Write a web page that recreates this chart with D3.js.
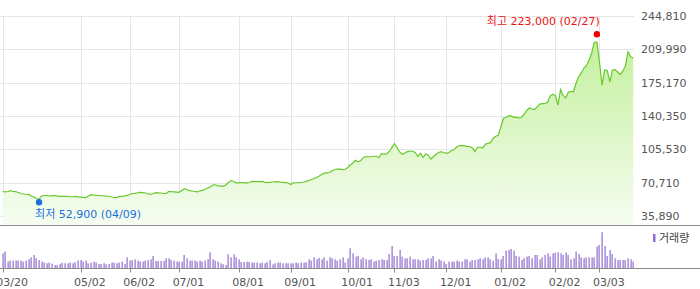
<!DOCTYPE html>
<html>
<head>
<meta charset="utf-8">
<script src="https://cdn.jsdelivr.net/npm/d3@7"></script>
<style>
  html, body { margin: 0; padding: 0; background: #fff; }
  svg { display: block; }
  text { font-family: "DejaVu Sans", "Noto Sans CJK KR", sans-serif; }
</style>
</head>
<body>
<div id="chart"></div>
<script>
// price axis tick values (also the labels)
var priceTicks = [35890, 70710, 105530, 140350, 175170, 209990, 244810];

// date ticks: label + trading-day index
var dateLabels = ["03/20", "05/02", "06/02", "07/01", "08/01", "09/01", "10/01", "11/03", "12/01", "01/02", "02/02", "03/03"];
var dateIndex = [0, 30, 49, 68, 91, 111, 133, 151, 171, 192, 213, 230];

// daily closes, one per trading day
var closes = [
  61500, 61000, 61500, 62300, 61500, 61300, 60400, 59400, 58900, 58600,
  58400, 56800, 55700, 54200, 53400, 56800, 57300, 57300, 56800, 57200,
  57200, 56800, 56300, 56300, 56500, 56300, 56000, 56000, 56300, 55900,
  55700, 55200, 55000, 56800, 58100, 57800, 57500, 57300, 57100, 56800,
  56600, 56500, 55700, 55200, 55400, 56300, 56300, 57000, 57500, 58400,
  59400, 59600, 60200, 60600, 60400, 59900, 59100, 58400, 59400, 60200,
  60100, 59900, 59400, 59400, 61500, 61200, 61000, 60800, 60600, 62500,
  64400, 63600, 62300, 62000, 61500, 61000, 62000, 62700, 63800, 65100,
  66200, 68300, 68500, 67400, 67200, 67200, 68300, 70900, 72900, 72000,
  70400, 70400, 70700, 70700, 70200, 70900, 72100, 71900, 71700, 71900,
  72100, 71100, 70700, 71100, 71400, 71600, 71700, 71400, 71100, 70700,
  70400, 68800, 70400, 70600, 70700, 70900, 71400, 72100, 73000, 74000,
  75100, 76100, 77700, 79500, 80600, 81000, 81300, 83200, 84500, 85000,
  84800, 84300, 84700, 86600, 89200, 91300, 94100, 92400, 93900, 96800,
  98000, 97800, 97800, 98300, 98300, 96800, 101200, 100200, 100700, 103300,
  107500, 111600, 107300, 102800, 100400, 101700, 103100, 103800, 103500, 102200,
  98000, 101400, 97000, 100700, 99600, 95400, 97800, 100100, 102200, 103100,
  102200, 101400, 102200, 104300, 105400, 108000, 109500, 109500, 109200, 108700,
  108500, 106900, 103300, 107700, 107700, 106900, 110800, 111800, 112500, 116900,
  119200, 120200, 128900, 138000, 138800, 140400, 140400, 139000, 139000, 138300,
  138800, 142400, 146100, 148700, 147700, 147100, 150100, 152700, 153200, 153400,
  154700, 161200, 163000, 161600, 151800, 168000, 161800, 159100, 165400, 165900,
  165900, 174800, 181600, 185300, 190500, 193100, 198800, 206200, 217100, 217700,
  196800, 172700, 188400, 187900, 175900, 188400, 188900, 186300, 183700, 187400,
  192600, 207500, 202300, 200600
];

// daily volume, millions of shares
var volumes = [
  21.4, 23.9, 9.6, 11.0, 11.0, 11.0, 11.0, 11.0, 9.6, 11.0,
  12.9, 15.7, 19.0, 14.3, 11.9, 9.6, 8.2, 7.2, 8.2, 6.7,
  4.7, 4.7, 6.1, 8.2, 7.2, 7.2, 8.2, 7.2, 8.6, 11.0,
  11.9, 9.6, 11.0, 7.2, 8.2, 9.6, 8.2, 6.1, 6.1, 7.2,
  5.7, 6.1, 8.2, 8.2, 7.2, 8.2, 9.6, 6.1, 15.7, 11.0,
  11.9, 12.9, 11.0, 9.6, 9.6, 11.0, 11.9, 12.9, 17.6, 10.4,
  10.4, 10.4, 10.4, 14.3, 14.3, 11.9, 11.0, 9.6, 9.6, 9.6,
  19.0, 14.3, 11.0, 11.0, 11.0, 9.6, 11.0, 9.6, 11.0, 12.9,
  22.9, 12.9, 11.0, 9.6, 7.2, 5.7, 4.7, 20.0, 15.7, 20.0,
  15.7, 12.9, 9.0, 9.0, 9.6, 9.0, 8.2, 8.2, 8.2, 7.2,
  8.2, 7.2, 9.0, 11.9, 5.7, 7.2, 8.2, 8.2, 7.2, 7.2,
  7.2, 7.2, 7.2, 8.2, 7.2, 8.2, 8.2, 8.6, 12.9, 11.0,
  15.7, 12.9, 14.7, 12.9, 15.7, 11.0, 15.7, 14.3, 12.9, 11.0,
  12.9, 15.7, 8.2, 14.3, 28.6, 21.4, 16.7, 17.6, 12.9, 15.7,
  12.9, 11.9, 12.9, 9.6, 11.0, 11.9, 12.9, 11.9, 11.9, 20.4,
  31.9, 17.6, 17.6, 26.2, 16.7, 14.3, 14.3, 16.7, 12.9, 12.9,
  12.9, 11.0, 11.9, 11.9, 14.3, 14.3, 17.6, 9.6, 12.9, 11.0,
  9.6, 6.1, 9.6, 9.6, 9.6, 11.0, 9.6, 9.6, 12.9, 12.9,
  9.6, 11.9, 11.9, 12.9, 14.3, 12.9, 15.7, 15.7, 12.9, 11.0,
  21.4, 12.9, 12.9, 17.6, 25.3, 26.2, 27.6, 25.3, 17.6, 16.7,
  11.9, 14.3, 16.7, 17.6, 14.3, 19.0, 19.0, 12.9, 15.7, 19.0,
  21.4, 16.7, 21.4, 22.4, 22.9, 21.4, 19.0, 22.4, 19.0, 12.9,
  14.3, 23.9, 20.4, 15.7, 14.3, 15.7, 15.7, 15.7, 15.7, 31.0,
  33.3, 51.5, 31.9, 17.6, 26.2, 20.4, 14.3, 11.9, 11.9, 11.9,
  11.9, 14.3, 12.9, 9.6
];

// high / low markers
var highMark = { idx: 229, value: 223000, label: "최고 223,000 (02/27)" };
var lowMark = { idx: 14, value: 52900, label: "최저 52,900 (04/09)" };

var width = 700, height = 289;

var svg = d3.select("#chart")
    .append("svg")
    .attr("width", width)
    .attr("height", height);

// scales
var x = d3.scaleLinear()
    .domain([0, closes.length - 1])
    .range([2.7, 633.2]);

var y = d3.scaleLinear()
    .domain([priceTicks[0], priceTicks[priceTicks.length - 1]])
    .range([216, 16]);

var yVol = d3.scaleLinear()
    .domain([0, 60])
    .range([268.3, 226.3]);

var mainBottom = 225.5;
var plotRight = 634;

// gradient for the area
var defs = svg.append("defs");
var grad = defs.append("linearGradient")
    .attr("id", "areaGrad")
    .attr("gradientUnits", "userSpaceOnUse")
    .attr("x1", 0).attr("y1", 16)
    .attr("x2", 0).attr("y2", mainBottom);
grad.append("stop").attr("offset", 0).attr("stop-color", "#bdee92");
grad.append("stop").attr("offset", 1).attr("stop-color", "#f6fdf1");

// horizontal grid
svg.append("g")
    .selectAll("line")
    .data(priceTicks)
    .enter()
    .append("line")
    .attr("x1", 0)
    .attr("x2", plotRight)
    .attr("y1", function (d) { return Math.round(y(d)) + 0.5; })
    .attr("y2", function (d) { return Math.round(y(d)) + 0.5; })
    .attr("stroke", "#e6e6e6");

// vertical grid
svg.append("g")
    .selectAll("line")
    .data(dateIndex)
    .enter()
    .append("line")
    .attr("x1", function (d) { return Math.round(x(d)) + 0.5; })
    .attr("x2", function (d) { return Math.round(x(d)) + 0.5; })
    .attr("y1", 16)
    .attr("y2", mainBottom)
    .attr("stroke", "#e6e6e6");

// area + line
var area = d3.area()
    .x(function (d, i) { return x(i); })
    .y0(mainBottom)
    .y1(function (d) { return y(d); });

var line = d3.line()
    .x(function (d, i) { return x(i); })
    .y(function (d) { return y(d); });

svg.append("path")
    .datum(closes)
    .attr("d", area)
    .attr("fill", "url(#areaGrad)");

svg.append("path")
    .datum(closes)
    .attr("d", line)
    .attr("fill", "none")
    .attr("stroke", "#66c82a")
    .attr("stroke-width", 1.2);

// price axis labels
svg.append("g")
    .selectAll("text")
    .data(priceTicks)
    .enter()
    .append("text")
    .attr("x", 641)
    .attr("y", function (d) { return y(d); })
    .attr("dy", "0.36em")
    .attr("font-size", "11px")
    .attr("fill", "#555")
    .text(function (d) { return d3.format(",")(d); });

// separator between price and volume panels
svg.append("line")
    .attr("x1", 0).attr("x2", width)
    .attr("y1", mainBottom).attr("y2", mainBottom)
    .attr("stroke", "#8c8c8c");

// high / low markers
svg.append("circle")
    .attr("cx", x(highMark.idx))
    .attr("cy", y(highMark.value) - 2.6)
    .attr("r", 3.2)
    .attr("fill", "#ee0000");
svg.append("text")
    .attr("x", x(highMark.idx) + 3)
    .attr("y", 21)
    .attr("dy", "0.36em")
    .attr("text-anchor", "end")
    .attr("font-size", "11px")
    .attr("fill", "#ee1111")
    .text(highMark.label);

svg.append("circle")
    .attr("cx", x(lowMark.idx))
    .attr("cy", y(lowMark.value) + 2.6)
    .attr("r", 3.2)
    .attr("fill", "#1a6fdc");
svg.append("text")
    .attr("x", x(lowMark.idx) - 4)
    .attr("y", 214.5)
    .attr("dy", "0.36em")
    .attr("font-size", "11px")
    .attr("fill", "#1a6fdc")
    .text(lowMark.label);

// volume bars
svg.append("g")
    .selectAll("rect")
    .data(volumes)
    .enter()
    .append("rect")
    .attr("x", function (d, i) { return Math.round(x(i)) - 0.5; })
    .attr("y", function (d) { return yVol(d); })
    .attr("width", 1.2)
    .attr("height", function (d) { return yVol(0) - yVol(d); })
    .attr("fill", "#8f6fcf");

// volume baseline
svg.append("line")
    .attr("x1", 0).attr("x2", width)
    .attr("y1", 268.5).attr("y2", 268.5)
    .attr("stroke", "#8c8c8c");

// date ticks + labels (labels start a little left of the tick)
var xt = svg.append("g");
xt.selectAll("line")
    .data(dateIndex)
    .enter()
    .append("line")
    .attr("x1", function (d) { return Math.round(x(d)) + 0.5; })
    .attr("x2", function (d) { return Math.round(x(d)) + 0.5; })
    .attr("y1", 268.5)
    .attr("y2", 272.5)
    .attr("stroke", "#8c8c8c");
xt.selectAll("text")
    .data(dateIndex)
    .enter()
    .append("text")
    .attr("x", function (d) { return x(d) - 6.5; })
    .attr("y", 282)
    .attr("dy", "0.36em")
    .attr("font-size", "11px")
    .attr("fill", "#555")
    .text(function (d, i) { return dateLabels[i]; });

// volume legend
svg.append("rect")
    .attr("x", 653).attr("y", 234)
    .attr("width", 2.5).attr("height", 8)
    .attr("fill", "#8f6fcf");
svg.append("text")
    .attr("x", 659).attr("y", 238)
    .attr("dy", "0.36em")
    .attr("font-size", "11px")
    .attr("fill", "#444")
    .text("거래량");
</script>
</body>
</html>
